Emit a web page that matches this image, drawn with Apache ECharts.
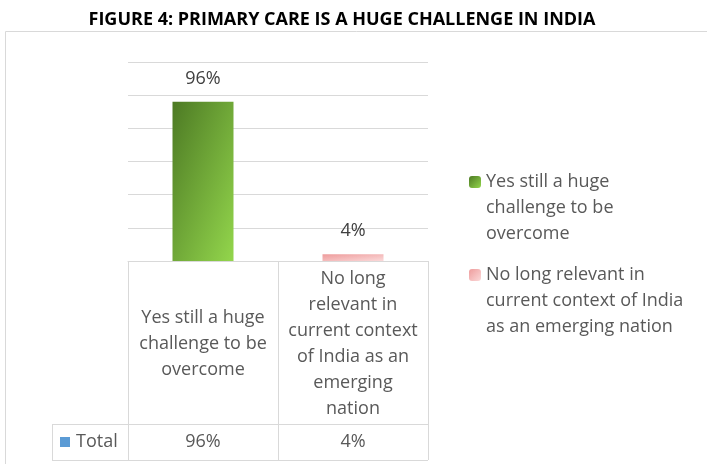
<!DOCTYPE html>
<html>
<head>
<meta charset="utf-8">
<script src="https://cdn.jsdelivr.net/npm/echarts@6/dist/echarts.min.js"></script>
<style>
  html, body { margin: 0; padding: 0; background: #fff; }
  #chart { width: 707px; height: 464px; }
</style>
</head>
<body>
<div id="chart"></div>
<script>
// ---- data ----
const titleText = 'FIGURE 4: PRIMARY CARE IS A HUGE CHALLENGE IN INDIA';
const categories = [
  'Yes still a huge challenge to be overcome',
  'No long relevant in current context of India as an emerging nation'
];
const values = [96, 4];               // percent
const seriesName = 'Total';
const tableLabelLines = [
  ['Yes still a huge', 'challenge to be', 'overcome'],
  ['No long', 'relevant in', 'current context', 'of India as an', 'emerging', 'nation']
];
const legendLabelLines = [
  ['Yes still a huge', 'challenge to be', 'overcome'],
  ['No long relevant in', 'current context of India', 'as an emerging nation']
];
const yMin = 0, yMax = 120, yInterval = 20;

// ---- style ----
const FONT = 'Open Sans';
const TEXT = '#595959';
const LINE = '#d9d9d9';
const FS = 18;
const LH = 26;
const BAR_W = 61;
const stops = [
  ['#4d7a24', '#93d64c'],
  ['#ee9c9c', '#fbd9d9']
];

// Gradient whose colour bands run along the anti-diagonal of a w x h box
function diagGradient(w, h, c0, c1) {
  const d = w * w + h * h;
  return new echarts.graphic.LinearGradient(0, 0, 2 * h * h / d, 2 * w * w / d, [
    { offset: 0, color: c0 },
    { offset: 1, color: c1 }
  ]);
}

const chart = echarts.init(document.getElementById('chart'), null, { renderer: 'canvas' });

const series = categories.map((name, i) => ({
  name,
  type: 'bar',
  barWidth: BAR_W,
  barGap: '-100%',
  data: values.map((v, j) => (j === i ? v : '-')),
  itemStyle: { color: stops[i][0] },
  label: {
    show: true,
    position: 'top',
    distance: 14,
    formatter: p => p.value + '%',
    color: '#404040',
    fontSize: FS,
    fontFamily: FONT
  }
}));

// one legend block per category, first text line level with the key
const legendTops = [112, 205];
const legend = categories.map((name, i) => ({
  data: [{ name, itemStyle: { color: diagGradient(12, 12, stops[i][0], stops[i][1]) } }],
  orient: 'vertical',
  left: 464,
  top: legendTops[i],
  itemWidth: 12,
  itemHeight: 12,
  selectedMode: false,
  formatter: () => '\n'.repeat(legendLabelLines[i].length - 1) + legendLabelLines[i].join('\n'),
  textStyle: {
    fontSize: FS,
    lineHeight: LH,
    color: TEXT,
    fontFamily: FONT
  }
}));

chart.setOption({
  animation: false,
  grid: { left: 128, right: 279, top: 62, bottom: 203, outerBoundsMode: 'none' },
  legend,
  xAxis: {
    type: 'category',
    data: categories,
    axisLine: { lineStyle: { color: LINE, width: 1 } },
    axisTick: { show: true, length: 199, lineStyle: { color: LINE, width: 1 } },
    axisLabel: {
      interval: 0,
      formatter: (v, i) => tableLabelLines[i].join('\n'),
      verticalAlign: 'middle',
      margin: 83,
      lineHeight: LH,
      fontSize: FS,
      color: TEXT,
      fontFamily: FONT
    }
  },
  yAxis: {
    type: 'value',
    min: yMin,
    max: yMax,
    interval: yInterval,
    axisLabel: { show: false },
    axisLine: { show: false },
    axisTick: { show: false },
    splitLine: { lineStyle: { color: LINE, width: 1 } }
  },
  series
});

// ---- bar shading sized to each bar ----
const base = chart.convertToPixel({ yAxisIndex: 0 }, 0);
chart.setOption({
  series: values.map((v, i) => {
    const h = Math.max(1, base - chart.convertToPixel({ yAxisIndex: 0 }, v));
    return { itemStyle: { color: diagGradient(BAR_W, h, stops[i][0], stops[i][1]) } };
  })
});

// ---- chart frame, heading and data-table rows ----
const rightEdge = chart.convertToPixel({ xAxisIndex: 0 }, categories.length - 1) + 75;
const rowTop = base + 163;
const rowBottom = base + 199;
const rowMid = (rowTop + rowBottom) / 2;
const keyLeft = 52;

const textStyle = (extra) => Object.assign({
  fontSize: FS, fontFamily: FONT, fill: TEXT, verticalAlign: 'middle'
}, extra);

const hLine = (y, x1, x2) => ({
  type: 'line', silent: true,
  shape: { x1, y1: Math.round(y) + 0.5, x2, y2: Math.round(y) + 0.5 },
  style: { stroke: LINE, lineWidth: 1 }
});

const graphics = [
  {
    type: 'rect', silent: true,
    shape: { x: 5.5, y: 31.5, width: 760, height: 480 },
    style: { fill: 'none', stroke: LINE, lineWidth: 1 }
  },
  {
    type: 'text', silent: true, x: 342, y: 20,
    style: {
      text: titleText, fontSize: 18, fontWeight: 'bold', fontFamily: FONT,
      fill: '#000', align: 'center', verticalAlign: 'middle'
    }
  },
  hLine(rowTop, keyLeft, rightEdge),
  hLine(rowBottom, keyLeft, rightEdge),
  {
    type: 'line', silent: true,
    shape: { x1: keyLeft + 0.5, y1: rowTop, x2: keyLeft + 0.5, y2: rowBottom + 1 },
    style: { stroke: LINE, lineWidth: 1 }
  },
  {
    type: 'rect', silent: true,
    shape: { x: 60, y: rowMid - 5, width: 10, height: 10 },
    style: { fill: '#5b9bd5' }
  },
  {
    type: 'text', silent: true, x: 76, y: rowMid,
    style: textStyle({ text: seriesName, align: 'left' })
  }
];
values.forEach((v, i) => {
  graphics.push({
    type: 'text', silent: true,
    x: chart.convertToPixel({ xAxisIndex: 0 }, i), y: rowMid,
    style: textStyle({ text: v + '%', align: 'center' })
  });
});
chart.setOption({ graphic: graphics });
</script>
</body>
</html>
